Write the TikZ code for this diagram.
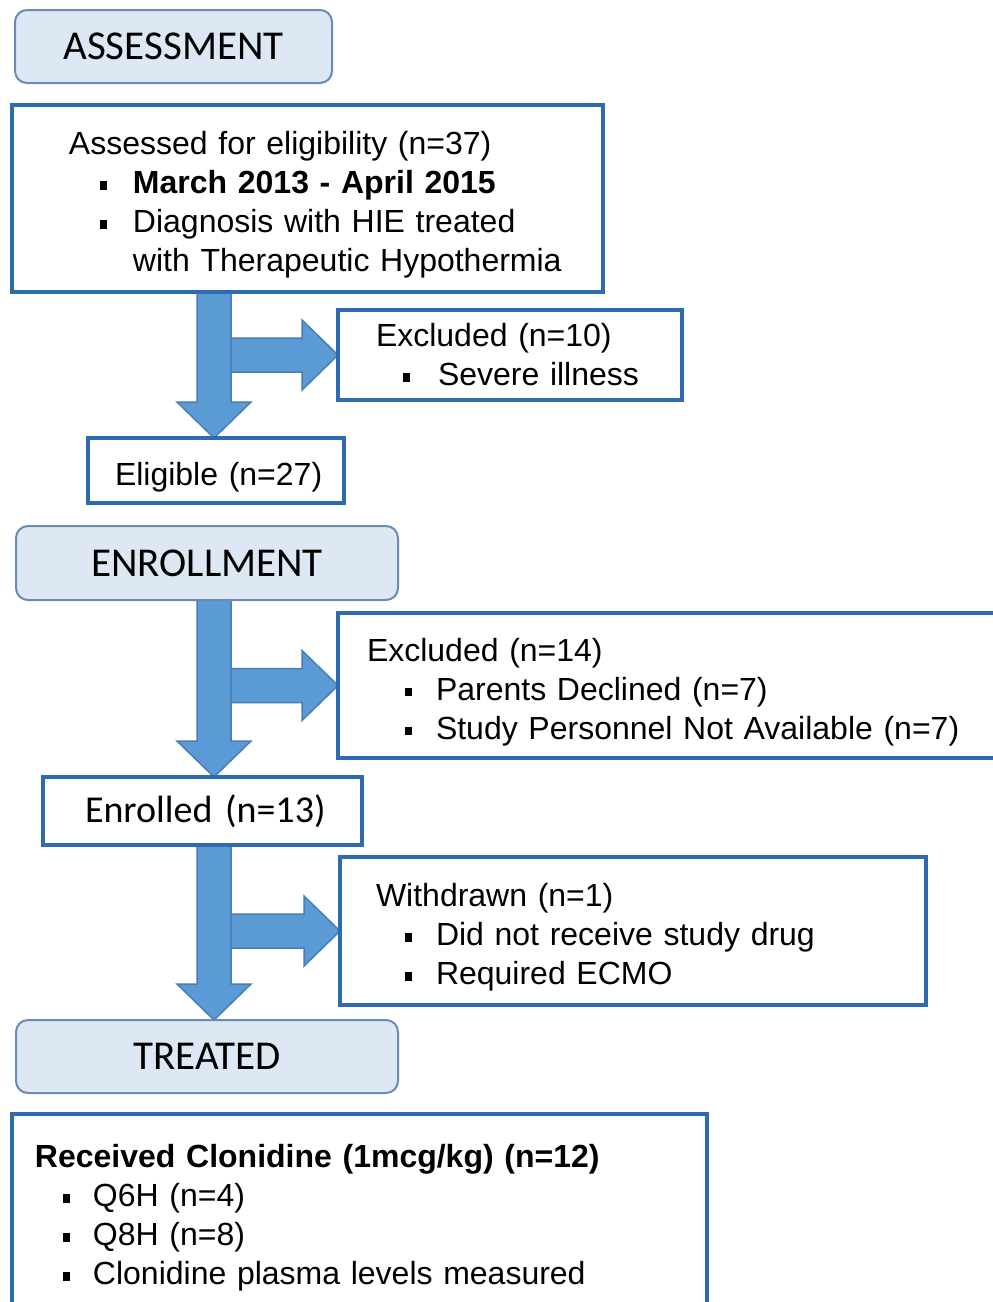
\documentclass[tikz,border=0pt]{standalone}
\usepackage{fontspec}
\setmainfont{Liberation Sans}
\newfontfamily\calfont{Carlito}
\usetikzlibrary{calc,backgrounds}
\definecolor{boxblue}{HTML}{2E6BB0}
\definecolor{arrowblue}{HTML}{5B9BD5}
\definecolor{arrowline}{HTML}{4A7DB8}
\definecolor{headfill}{HTML}{DDE8F4}
\definecolor{headline}{HTML}{6A8BB3}
\newcommand{\sq}{\rule[0.12em]{0.21em}{0.27em}}
\newcommand{\bitem}[2]{\hspace*{#1}\makebox[#2][l]{\sq}}

\begin{document}
\begin{tikzpicture}[x=1pt,y=-1pt,
 hd/.style={rounded corners=12pt,draw=headline,fill=headfill,line width=2pt,anchor=north west,inner sep=0pt,outer sep=0pt,align=center,font=\calfont\fontsize{41}{49}\selectfont},
 bx/.style={draw=boxblue,fill=white,line width=3.5pt,anchor=north west,inner sep=0pt,outer sep=0pt,align=left,font=\fontsize{32}{39}\selectfont},
 tall/.style={execute at begin node={\rule{0pt}{36pt}}},
 blk/.style={fill=arrowblue,draw=arrowline,line width=1.5pt,line join=miter}]
\path[use as bounding box] (0,0) rectangle (993,1302);

\node[hd,minimum width=317pt,minimum height=73pt] (assesshd) at (15,10) {ASSESSMENT};
\node[bx,tall,minimum width=591pt,minimum height=187pt,text width=591pt] (assess) at (12,105)
{\hspace*{57pt}Assessed for eligibility (n=37)\\
\bitem{88pt}{33pt}\textbf{March 2013 - April 2015}\\
\bitem{88pt}{33pt}Diagnosis with HIE treated\\
\hspace*{121pt}with Therapeutic Hypothermia};
\node[bx,minimum width=344pt,minimum height=90pt,text width=344pt] (excla) at (338,310)
{\hspace*{38pt}Excluded (n=10)\\
\bitem{65pt}{35pt}Severe illness};
\node[bx,tall,minimum width=256pt,minimum height=65pt,text width=256pt] (elig) at (88,438)
{\hspace*{27pt}Eligible (n=27)};

\node[hd,minimum width=382pt,minimum height=74pt] (enrolhd) at (16,526) {ENROLLMENT};
\node[bx,tall,minimum width=662pt,minimum height=145pt,text width=662pt] (exclb) at (338,613)
{\hspace*{29pt}Excluded (n=14)\\
\bitem{67pt}{31pt}Parents Declined (n=7)\\
\bitem{67pt}{31pt}Study Personnel Not Available (n=7)};
\node[bx,minimum width=319pt,minimum height=68pt,text width=319pt,font=\calfont\fontsize{38}{46}\selectfont] (enrolled) at (43,777)
{\hspace*{42pt}Enrolled (n=13)};
\node[bx,tall,minimum width=586pt,minimum height=148pt,text width=586pt] (withdr) at (340,857)
{\hspace*{36pt}Withdrawn (n=1)\\
\bitem{65pt}{31pt}Did not receive study drug\\
\bitem{65pt}{31pt}Required ECMO};

\node[hd,minimum width=382pt,minimum height=73pt] (treatedhd) at (16,1020) {TREATED};
\node[bx,tall,minimum width=695pt,minimum height=195pt,text width=695pt] (received) at (12,1114)
{\hspace*{23pt}\textbf{Received Clonidine (1mcg/kg) (n=12)}\\
\bitem{51pt}{30pt}Q6H (n=4)\\
\bitem{51pt}{30pt}Q8H (n=8)\\
\bitem{51pt}{30pt}Clonidine plasma levels measured};

% block arrows: side branch first, main shaft on top
\coordinate (ax) at (214,0);
\begin{scope}[on background layer]
\fill[white] (0,0) rectangle (993,1302);
\foreach \src/\dst/\side in {assess/elig/excla,enrolhd/enrolled/exclb,enrolled/treatedhd/withdr}{
  \draw[blk] ($(ax |- \side.west)+(17,-17)$) -- ($(\side.west)+(-36,-17)$) -- ($(\side.west)+(-36,-35)$) -- (\side.west)
    -- ($(\side.west)+(-36,35)$) -- ($(\side.west)+(-36,17)$) -- ($(ax |- \side.west)+(17,17)$) -- cycle;
  \draw[blk] ($(ax |- \src.south)+(-17,0)$) -- ($(ax |- \dst.north)+(-17,-36)$) -- ($(ax |- \dst.north)+(-37,-36)$) -- (ax |- \dst.north)
    -- ($(ax |- \dst.north)+(37,-36)$) -- ($(ax |- \dst.north)+(17,-36)$) -- ($(ax |- \src.south)+(17,0)$) -- cycle;
}
\end{scope}
\end{tikzpicture}
\end{document}
